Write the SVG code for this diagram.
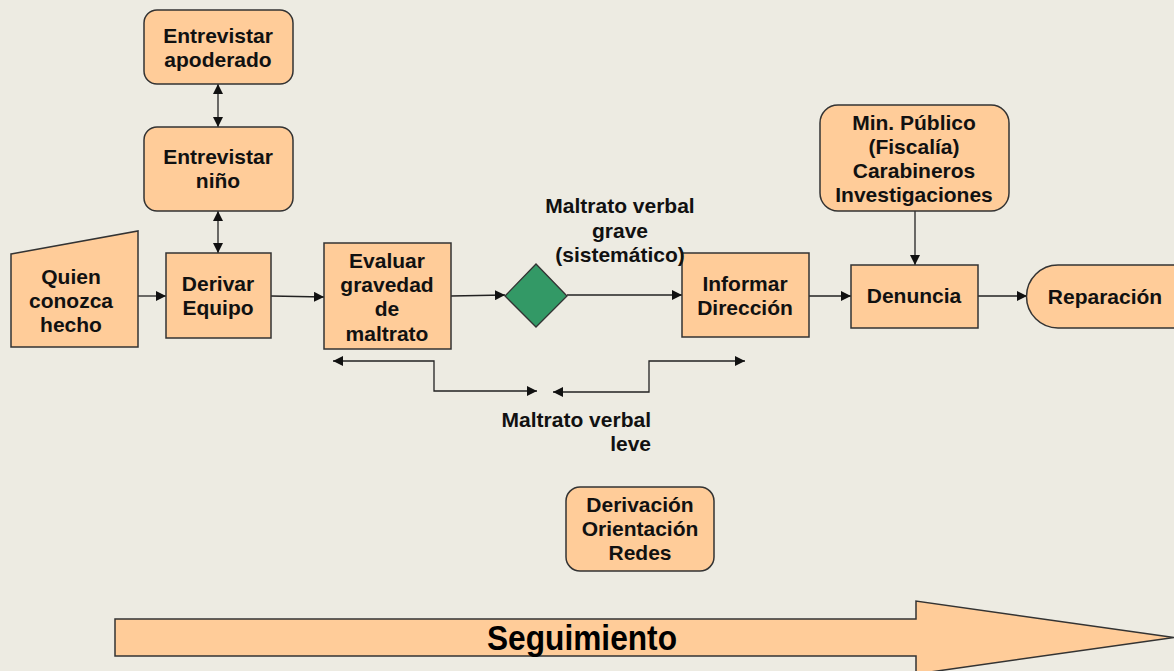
<svg xmlns="http://www.w3.org/2000/svg" width="1174" height="671" viewBox="0 0 1174 671">
<defs>
<style>
.n{fill:#FFCC99;stroke:#333;stroke-width:1.5}
.t{font-family:"Liberation Sans",Arial,sans-serif;font-weight:bold;font-size:21px;fill:#111;text-anchor:middle}
.c{fill:none;stroke:#222;stroke-width:1.3}
</style>
<marker id="a" viewBox="0 0 10 10" refX="10" refY="5" markerWidth="10" markerHeight="10" markerUnits="userSpaceOnUse" orient="auto-start-reverse"><path d="M0,0L10,5L0,10z" fill="#111"/></marker>
</defs>
<rect width="1174" height="671" fill="#EDEBE2"/>
<g id="connectors">
<path class="c" d="M138,296H166" marker-end="url(#a)"/>
<path class="c" d="M218,84V127" marker-start="url(#a)" marker-end="url(#a)"/>
<path class="c" d="M218,211V253" marker-start="url(#a)" marker-end="url(#a)"/>
<path class="c" d="M271,296L324,297" marker-end="url(#a)"/>
<path class="c" d="M451,296L505,295" marker-end="url(#a)"/>
<path class="c" d="M567,295H682" marker-end="url(#a)"/>
<path class="c" d="M809,296H851" marker-end="url(#a)"/>
<path class="c" d="M915,211V265" marker-end="url(#a)"/>
<path class="c" d="M978,296H1027" marker-end="url(#a)"/>
<path class="c" d="M537,391H434V361H333" marker-start="url(#a)" marker-end="url(#a)"/>
<path class="c" d="M553,392H649V361H745" marker-start="url(#a)" marker-end="url(#a)"/>
</g>
<g id="quien"><path class="n" d="M11,254L138,231V347H11z"/><text class="t" x="71" y="284">Quien</text><text class="t" x="71" y="308">conozca</text><text class="t" x="71" y="332">hecho</text></g>
<g id="derivar"><rect class="n" x="166" y="253" width="105" height="85"/><text class="t" x="218" y="291">Derivar</text><text class="t" x="218" y="315">Equipo</text></g>
<g id="apoderado"><rect class="n" x="144" y="10" width="149" height="74" rx="13"/><text class="t" x="218" y="43">Entrevistar</text><text class="t" x="218" y="67">apoderado</text></g>
<g id="nino"><rect class="n" x="144" y="127" width="149" height="84" rx="13"/><text class="t" x="218" y="164">Entrevistar</text><text class="t" x="218" y="188">niño</text></g>
<g id="evaluar"><rect class="n" x="324" y="243" width="127" height="106"/><text class="t" x="387" y="268">Evaluar</text><text class="t" x="387" y="292">gravedad</text><text class="t" x="387" y="316">de</text><text class="t" x="387" y="341">maltrato</text></g>
<g id="decision"><path d="M505,296L536,264L567,296L536,327z" fill="#339966" stroke="#333" stroke-width="1.3"/></g>
<g id="informar"><rect class="n" x="682" y="253" width="127" height="84"/><text class="t" x="745" y="291">Informar</text><text class="t" x="745" y="315">Dirección</text></g>
<g id="grave-label"><text class="t" x="620" y="213">Maltrato verbal</text><text class="t" x="620" y="238">grave</text><text class="t" x="620" y="262">(sistemático)</text></g>
<g id="denuncia"><rect class="n" x="851" y="265" width="127" height="63"/><text class="t" x="914" y="303">Denuncia</text></g>
<g id="minpublico"><rect class="n" x="820" y="105" width="189" height="106" rx="18"/><text class="t" x="914" y="130">Min. Público</text><text class="t" x="914" y="154">(Fiscalía)</text><text class="t" x="914" y="178">Carabineros</text><text class="t" x="914" y="202">Investigaciones</text></g>
<g id="reparacion"><path class="n" d="M1058,265H1190V328H1058A31.5,31.5 0 0 1 1058,265z"/><text class="t" x="1105" y="304">Reparación</text></g>
<g id="leve-label"><text class="t" x="651" y="427" style="text-anchor:end">Maltrato verbal</text><text class="t" x="651" y="451" style="text-anchor:end">leve</text></g>
<g id="derivacion"><rect class="n" x="566" y="487" width="148" height="84" rx="14"/><text class="t" x="640" y="512">Derivación</text><text class="t" x="640" y="536">Orientación</text><text class="t" x="640" y="560">Redes</text></g>
<g id="seguimiento"><path class="n" d="M115,619H916V601L1174,637.5L916,674V656H115z"/><text x="582" y="650" textLength="190" lengthAdjust="spacingAndGlyphs" style="font-family:'Liberation Sans',Arial,sans-serif;font-weight:bold;font-size:35px;fill:#000;text-anchor:middle">Seguimiento</text></g>
</svg>
